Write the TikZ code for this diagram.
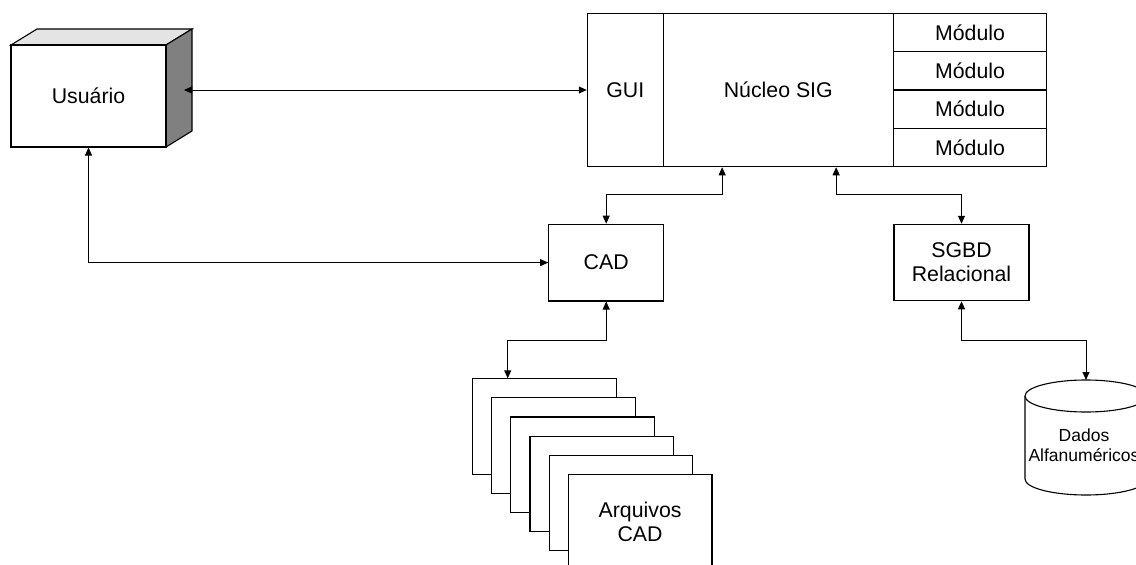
\documentclass[tikz,border=0pt]{standalone}
\usepackage{fontspec}
\setmainfont{Liberation Sans}
\usetikzlibrary{arrows.meta,calc}
\definecolor{topface}{HTML}{E4E4E4}
\definecolor{sideface}{HTML}{808080}
\begin{document}
\begin{tikzpicture}[x=1pt,y=-1pt,
  box/.style={draw=black,line width=1.1pt,fill=white,rectangle,inner sep=0pt,align=center,
    font=\fontsize{21.3}{24}\selectfont},
  link/.style={draw=black,line width=0.9pt,
    {Triangle[length=8pt,width=7pt]}-{Triangle[length=8pt,width=7pt]}},
  page/.style={box,minimum width=143.7pt,minimum height=95.4pt,anchor=north west}]
\useasboundingbox (0,0) rectangle (1136,565);
\clip (0,0) rectangle (1136,565);

% user block drawn as a 3D box
\fill[topface,draw=black,line width=1.1pt,line join=miter] (11,45) -- (37,29) -- (192,29) -- (166,45) -- cycle;
\fill[sideface,draw=black,line width=1.1pt] (166,45) -- (192,29) -- (192,131) -- (166,147) -- cycle;
\node[box,minimum width=155pt,minimum height=102pt] (usr) at (88.5,96) {Usuário};
\coordinate (usrside) at (184,90);

% GIS core with interface and modules
\node[box,minimum width=76pt,minimum height=153.4pt] (gui) at (625.3,90) {GUI};
\node[box,minimum width=230pt,minimum height=153.4pt] (core) at (778.3,90) {Núcleo SIG};
\foreach \i in {0,1,2,3}
  \node[box,minimum width=153.4pt,minimum height=38.35pt] (mod\i) at (970,32.5+38.35*\i) {Módulo};

% CAD and DBMS
\node[box,minimum width=115pt,minimum height=76.7pt] (cad) at (606.2,262.6) {CAD};
\node[box,minimum width=135pt,minimum height=76.4pt] (sgbd) at (961.5,262.5) {SGBD\\Relacional};

% stack of CAD files
\foreach \i in {0,...,4}
  \node[page] (f\i) at (472+19.14*\i,378.3+19.08*\i) {};
\node[page] (f5) at (567.7,473.7) {Arquivos\\CAD};

% relational data store
\path[draw=black,line width=1.1pt,fill=white] (1025,396) -- (1025,479)
  arc[start angle=180,end angle=360,x radius=61pt,y radius=16pt] -- (1147,396);
\draw[line width=1.1pt,fill=white] (1086,396) ellipse[x radius=61pt,y radius=16pt];
\coordinate (dbtop) at (1086,380);
\node[align=center,inner sep=0pt,font=\fontsize{17.5}{20}\selectfont] (db) at (1084,445.5) {Dados\\Alfanuméricos};

% connectors
\draw[link] (usrside) -- (gui.west);
\draw[link] (usr.south) |- (cad.west);
\draw[link] (cad.north) -- ++(0,-29.3) -| ([xshift=59.4pt]core.south west);
\draw[link] (sgbd.north) -- ++(0,-29.3) -| ([xshift=173.4pt]core.south west);
\draw[link] (cad.south) -- ++(0,39) -| ([xshift=35.7pt]f0.north west);
\draw[link] (sgbd.south) -- ++(0,39.3) -| (dbtop);
\end{tikzpicture}
\end{document}
